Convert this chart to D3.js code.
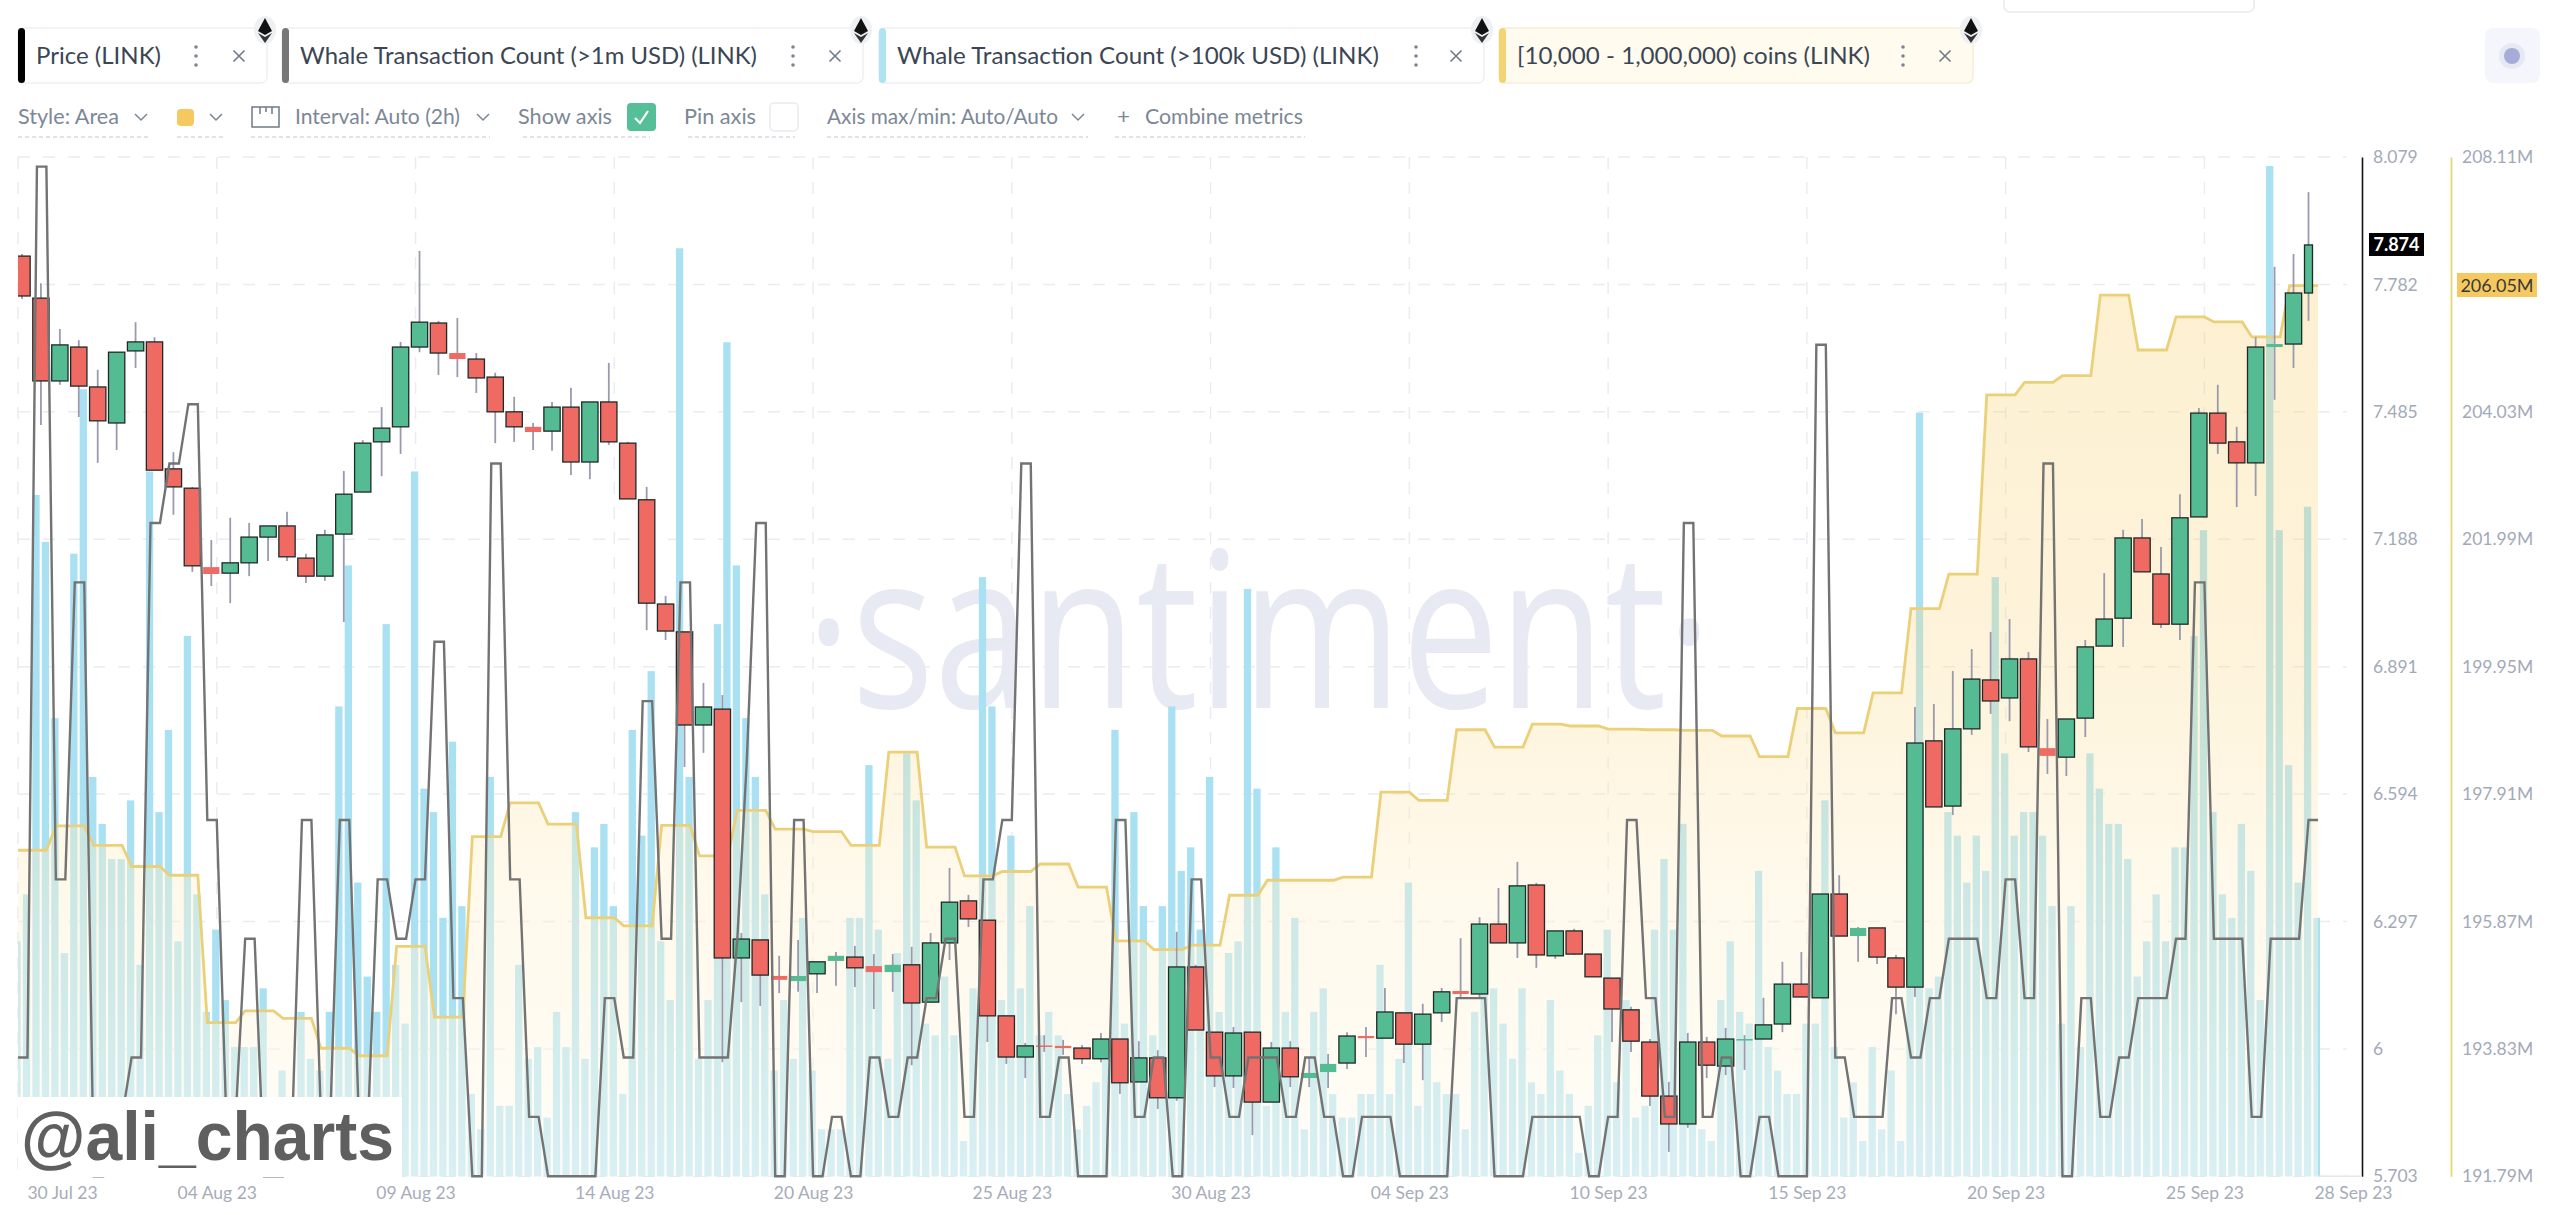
<!DOCTYPE html>
<html>
<head>
<meta charset="utf-8">
<script src="https://cdnjs.cloudflare.com/ajax/libs/d3/7.8.5/d3.min.js"></script>
<style>
html,body{margin:0;padding:0;background:#fff;overflow:hidden}
svg{display:block}
text{font-family:Lato,"Open Sans",sans-serif}
</style>
</head>
<body>
<svg id="chart" width="2560" height="1215"></svg>
<script>
// ---------- DATA ----------
const candleOpen=[7.848,7.750,7.557,7.636,7.543,7.459,7.627,7.648,7.352,7.307,7.123,7.109,7.133,7.193,7.219,7.144,7.102,7.200,7.298,7.415,7.450,7.636,7.692,7.622,7.608,7.566,7.485,7.450,7.440,7.496,7.368,7.508,7.412,7.280,7.037,6.972,6.755,6.792,6.212,6.254,6.170,6.158,6.175,6.205,6.214,6.193,6.179,6.196,6.109,6.247,6.345,6.300,6.077,5.981,6.008,6.007,6.002,5.977,6.023,5.923,5.979,5.886,6.191,6.039,5.937,6.039,5.876,6.002,5.932,5.946,5.967,6.030,6.025,6.084,6.011,6.084,6.135,6.128,6.291,6.247,6.382,6.217,6.275,6.221,6.165,6.091,6.016,5.890,5.825,6.016,5.960,6.021,6.023,6.058,6.151,6.119,6.361,6.263,6.282,6.212,6.144,6.718,6.566,6.746,6.860,6.818,6.909,6.701,6.680,6.771,6.939,7.004,7.191,7.107,6.990,7.240,7.482,7.415,7.366,7.636,7.643,7.762];
const candleHigh=[7.853,7.785,7.678,7.652,7.583,7.624,7.694,7.659,7.391,7.310,7.186,7.238,7.226,7.219,7.252,7.154,7.210,7.347,7.419,7.496,7.648,7.860,7.697,7.704,7.622,7.576,7.520,7.459,7.508,7.541,7.508,7.599,7.415,7.310,7.056,6.972,6.853,6.825,6.270,6.254,6.217,6.254,6.203,6.226,6.240,6.221,6.221,6.238,6.270,6.422,6.359,6.300,6.077,6.014,6.032,6.021,6.009,6.037,6.023,6.018,5.997,6.273,6.196,6.039,6.051,6.039,6.016,6.018,5.981,5.988,6.039,6.051,6.142,6.084,6.105,6.142,6.258,6.307,6.375,6.436,6.387,6.275,6.280,6.221,6.165,6.098,6.023,5.923,6.037,6.028,6.049,6.032,6.119,6.203,6.226,6.361,6.405,6.284,6.282,6.219,6.797,6.804,6.881,6.932,6.972,7.002,6.925,6.769,6.769,6.953,7.109,7.210,7.235,7.170,7.293,7.494,7.548,7.450,7.659,7.823,7.853,7.997];
const candleLow=[7.748,7.454,7.548,7.473,7.366,7.396,7.587,7.349,7.245,7.112,7.079,7.039,7.102,7.137,7.137,7.086,7.091,6.995,7.298,7.335,7.387,7.624,7.571,7.566,7.529,7.412,7.415,7.396,7.394,7.338,7.328,7.408,7.282,6.976,6.953,6.657,6.690,5.969,6.109,6.100,6.130,6.133,6.130,6.147,6.144,6.093,6.133,5.962,6.109,6.207,6.284,6.016,5.965,5.932,5.993,5.986,5.965,5.969,5.895,5.923,5.860,5.879,6.044,5.911,5.909,5.799,5.876,5.911,5.911,5.909,5.953,5.981,6.025,5.967,5.927,6.063,6.121,6.121,6.247,6.212,6.189,6.210,6.219,6.168,6.016,5.993,5.867,5.760,5.816,5.932,5.939,5.951,6.023,6.039,6.121,6.119,6.263,6.203,6.198,6.081,6.121,6.564,6.545,6.732,6.781,6.764,6.692,6.641,6.636,6.727,6.939,6.937,7.112,6.981,6.953,7.240,7.387,7.263,7.289,7.513,7.587,7.697];
const candleClose=[7.755,7.557,7.641,7.545,7.464,7.624,7.648,7.349,7.310,7.126,7.107,7.133,7.193,7.219,7.147,7.102,7.198,7.293,7.412,7.447,7.636,7.694,7.622,7.608,7.564,7.485,7.450,7.438,7.496,7.368,7.508,7.415,7.282,7.039,6.974,6.755,6.797,6.212,6.256,6.172,6.161,6.170,6.203,6.217,6.189,6.179,6.196,6.107,6.247,6.342,6.303,6.077,5.981,6.007,6.007,6.002,5.977,6.023,5.921,5.979,5.886,6.191,6.044,5.937,6.037,5.876,6.002,5.935,5.944,5.965,6.030,6.025,6.086,6.011,6.081,6.133,6.128,6.291,6.247,6.380,6.219,6.275,6.221,6.168,6.093,6.018,5.890,5.825,6.016,5.962,6.023,6.023,6.056,6.151,6.121,6.361,6.263,6.282,6.214,6.144,6.713,6.564,6.746,6.862,6.811,6.909,6.704,6.683,6.769,6.937,7.002,7.191,7.112,6.990,7.238,7.482,7.412,7.366,7.636,7.643,7.762,7.874];
const whaleOver1m=[2,2,17,17,5,5,10,10,0,0,1,1,2,2,11,11,12,12,13,13,6,6,1,1,4,4,0,0,0,1,6,6,1,1,6,6,1,1,5,5,4,4,5,5,9,9,3,3,0,0,12,12,5,5,1,1,0,0,0,0,0,0,3,3,2,2,8,8,4,4,10,10,2,2,2,2,4,7,11,11,0,0,6,6,0,0,1,1,0,0,2,2,1,1,2,2,3,3,4,4,1,1,5,5,6,6,12,12,1,1,2,2,0,0,0,0,6,6,1,1,2,2,0,0,5,5,2,2,1,1,2,2,2,2,1,1,2,2,1,1,0,0,1,1,1,1,0,0,0,0,0,0,3,3,3,3,0,0,0,0,1,1,1,1,1,1,0,0,1,1,6,6,3,3,1,1,11,11,1,1,2,2,0,0,1,1,0,0,0,0,14,14,2,2,1,1,1,1,3,3,2,2,3,3,4,4,4,4,3,3,5,5,3,3,12,12,0,0,3,3,1,1,2,2,3,3,3,3,4,4,10,10,4,4,4,4,1,1,4,4,4,4,6,6];
const whaleOver100k=[20,24,58,54,39,19,53,67,34,30,27,27,32,18,60,31,38,20,46,24,14,21,15,11,11,11,16,5,9,6,14,10,9,14,40,52,25,17,14,47,18,13,60,33,31,22,37,23,7,4,34,6,6,18,10,11,5,14,11,31,10,28,30,23,7,38,29,43,20,15,79,34,10,15,47,71,52,39,34,24,9,15,10,22,9,4,4,4,22,22,35,21,10,19,36,32,13,12,17,12,3,16,51,40,15,29,16,23,12,14,12,7,4,6,8,10,38,13,31,23,12,23,40,26,28,21,34,14,19,20,50,33,6,28,14,22,4,14,16,7,5,5,7,7,18,7,10,25,6,12,8,7,7,4,14,16,16,13,10,16,8,7,15,9,7,2,6,12,21,8,15,5,6,21,27,21,30,11,4,3,15,20,14,13,26,11,9,7,7,13,13,32,11,5,8,3,11,4,9,3,16,65,16,17,31,29,25,29,26,51,36,29,31,31,29,23,13,23,11,36,33,30,30,27,17,20,24,20,28,28,46,55,31,24,22,30,26,15,86,55,35,25,57,22];
// holders' balance: one reading every four samples
const coinBalance=[197.01,197.40,197.09,196.75,196.61,194.25,194.44,194.32,193.84,193.72,195.47,194.34,197.23,197.77,197.43,195.93,195.80,197.41,196.92,197.65,197.35,197.31,197.09,198.58,197.06,196.60,196.67,196.79,196.42,195.56,195.42,195.49,196.29,196.53,196.53,196.58,197.94,197.81,198.94,198.66,199.03,199.00,198.95,198.94,198.93,198.84,198.51,199.28,198.89,199.53,200.88,201.43,204.30,204.50,204.61,205.90,205.02,205.55,205.47,205.23,206.05];
const priceTicks=[8.079,7.782,7.485,7.188,6.891,6.594,6.297,6,5.703];
const coinTicks=[208.11,204.03,201.99,199.95,197.91,195.87,193.83,191.79];
const dateSlots=[0,21,42,63,84,105,126,147,168,189,210,231,243];
const dateLabels=["30 Jul 23","04 Aug 23","09 Aug 23","14 Aug 23","20 Aug 23","25 Aug 23","30 Aug 23","04 Sep 23","10 Sep 23","15 Sep 23","20 Sep 23","25 Sep 23","28 Sep 23"];
const chipNames=["Price (LINK)","Whale Transaction Count (>1m USD) (LINK)","Whale Transaction Count (>100k USD) (LINK)","[10,000 - 1,000,000) coins (LINK)"];
const chipColors=["#000000","#777777","#ADE3F3","#F2D476"];
const chipBoxes=[[18,267,125],[282,863,457],[879,1484,482],[1499,1973,353]];

// ---------- SCALES ----------
const svg=d3.select("#chart");
const top_=157,bot=1176.3;
const xLine=d3.scaleLinear().domain([0,243]).range([18,2318]);
const xCandle=d3.scaleLinear().domain([0,120]).range([22,2293.5]);
const lastCandle=candleOpen.length-1;
const candleX=i=>i===lastCandle?xCandle(120)+15:xCandle(i);   // the unfinished last candle is narrower
const candleW=i=>i===lastCandle?8:16.3;
const yPrice=d3.scaleLinear().domain([5.703,8.079]).range([bot,top_]);
const yCoin=d3.scaleLinear().domain([191.79,208.11]).range([bot,top_]);
const yWhale1=d3.scaleLinear().domain([0,17]).range([bot,166.6]);
const yWhale2=d3.scaleLinear().domain([0,86]).range([bot,166]);
const coinSeries=d3.range(244).map(i=>coinBalance[Math.floor(i/4)]);

const defs=svg.append("defs");
defs.append("clipPath").attr("id","plot").append("rect").attr("x",18).attr("y",0).attr("width",2302).attr("height",1215);
const grad=defs.append("linearGradient").attr("id","areaFill").attr("gradientUnits","userSpaceOnUse")
  .attr("x1",0).attr("x2",0).attr("y1",top_).attr("y2",bot);
grad.append("stop").attr("offset",0).attr("stop-color","rgb(249,205,100)").attr("stop-opacity",.32);
grad.append("stop").attr("offset",.45).attr("stop-color","rgb(250,215,130)").attr("stop-opacity",.3);
grad.append("stop").attr("offset",.7).attr("stop-color","rgb(254,240,205)").attr("stop-opacity",.4);
grad.append("stop").attr("offset",1).attr("stop-color","rgb(255,252,245)").attr("stop-opacity",.55);

// ---------- GRID ----------
const grid=svg.append("g").attr("stroke","#E9ECF0").attr("stroke-width",1.5).attr("stroke-dasharray","12 13");
grid.selectAll(".h").data(priceTicks).join("line").attr("x1",18).attr("x2",2347)
  .attr("y1",d=>yPrice(d)).attr("y2",d=>yPrice(d));
grid.selectAll(".v").data(dateSlots.slice(0,-1)).join("line").attr("x1",d=>xLine(d)).attr("x2",d=>xLine(d))
  .attr("y1",top_).attr("y2",bot);

// ---------- WATERMARK ----------
svg.append("text").text("·santiment·").attr("x",806).attr("y",708)
  .attr("textLength",906).attr("lengthAdjust","spacingAndGlyphs")
  .style("font-family","'Open Sans'").style("font-weight",500).style("font-size","218px").attr("fill","#E8EAF3");

const plot=svg.append("g").attr("clip-path","url(#plot)");

// ---------- BARS ----------
plot.append("g").selectAll("rect").data(whaleOver100k).join("rect")
  .attr("x",(d,i)=>xLine(i)-4.6).attr("width",7.3)
  .attr("y",d=>yWhale2(d)).attr("height",d=>bot-yWhale2(d)).attr("fill","#A9E1F3");

// ---------- AREA ----------
plot.append("path").datum(coinSeries).attr("fill","url(#areaFill)")
  .attr("d",d3.area().x((d,i)=>xLine(i)).y0(bot).y1(d=>yCoin(d)));
plot.append("path").datum(coinSeries).attr("fill","none").attr("stroke","#EBD07A").attr("stroke-width",2.8)
  .attr("d",d3.line().x((d,i)=>xLine(i)).y(d=>yCoin(d)));

// ---------- CANDLES ----------
const cg=plot.append("g");
cg.selectAll("line").data(candleOpen).join("line")
  .attr("x1",(d,i)=>candleX(i)).attr("x2",(d,i)=>candleX(i))
  .attr("y1",(d,i)=>yPrice(candleHigh[i])).attr("y2",(d,i)=>yPrice(candleLow[i]))
  .attr("stroke","#9A9AAE").attr("stroke-width",1.8);
cg.selectAll("rect").data(candleOpen).join("rect")
  .attr("x",(d,i)=>candleX(i)-candleW(i)/2).attr("width",(d,i)=>candleW(i))
  .attr("y",(d,i)=>yPrice(Math.max(d,candleClose[i])))
  .attr("height",(d,i)=>Math.max(1.5,Math.abs(yPrice(d)-yPrice(candleClose[i]))))
  .attr("fill",(d,i)=>candleClose[i]>=d?"#55BB92":"#EE6A62")
  .attr("stroke",(d,i)=>Math.abs(yPrice(d)-yPrice(candleClose[i]))>=9?"#1f2a28":"none")
  .attr("stroke-width",1.3);

// ---------- GRAY LINE ----------
plot.append("path").datum(whaleOver1m).attr("fill","none").attr("stroke","#737373").attr("stroke-width",2.4)
  .attr("stroke-linejoin","miter").attr("d",d3.line().x((d,i)=>xLine(i)).y(d=>yWhale1(d)));

// ---------- AXES ----------
const fmtPrice=d=>String(+(+d).toFixed(3));
const axP=svg.append("g").attr("transform","translate(2362,0)")
  .call(d3.axisRight(yPrice).tickValues(priceTicks).tickFormat(fmtPrice).tickSize(0).tickPadding(11));
axP.select(".domain").attr("stroke","#111").attr("stroke-width",1.6);
const axC=svg.append("g").attr("transform","translate(2451,0)")
  .call(d3.axisRight(yCoin).tickValues(coinTicks).tickFormat(d=>d.toFixed(2)+"M").tickSize(0).tickPadding(11));
axC.select(".domain").attr("stroke","#E8D872").attr("stroke-width",1.8);
[axP,axC].forEach(a=>a.selectAll("text").attr("fill","#A3A9B8").style("font-size","17.5px").style("font-family","Lato"));
svg.append("line").attr("x1",2318).attr("x2",2362).attr("y1",bot).attr("y2",bot).attr("stroke","#E4E7EC").attr("stroke-width",1.5);

const axX=svg.append("g").attr("transform","translate(0,1176)")
  .call(d3.axisBottom(xLine).tickValues(dateSlots).tickFormat((d,i)=>dateLabels[i]).tickSize(0).tickPadding(11));
axX.select(".domain").remove();
axX.selectAll("text").attr("fill","#A6ACB8").style("font-size","17.5px").style("font-family","Lato")
  .attr("dx",(d,i)=>i===0?44:(i===dateSlots.length-1?35:0));

// price tags
svg.append("rect").attr("x",2369).attr("y",233).attr("width",55).attr("height",23).attr("fill","#000");
svg.append("text").text(candleClose[candleClose.length-1].toFixed(3)).attr("x",2396.5)
  .attr("y",251).attr("text-anchor","middle").attr("fill","#fff").style("font-size","18px").style("font-weight",700);
svg.append("rect").attr("x",2457).attr("y",273).attr("width",80).attr("height",24).attr("fill","#F5C95F");
svg.append("text").text(coinBalance[coinBalance.length-1].toFixed(2)+"M").attr("x",2497).attr("y",291.5)
  .attr("text-anchor","middle").attr("fill","#3a3a3a").style("font-size","18px");

// ---------- SIGNATURE ----------
svg.append("rect").attr("x",18).attr("y",1097).attr("width",384).attr("height",80).attr("fill","#fff");
svg.append("text").text("@ali_charts").attr("x",21).attr("y",1160).attr("textLength",373).attr("lengthAdjust","spacingAndGlyphs")
  .style("font-family","'Liberation Sans'").style("font-weight",700).style("font-size","68px").attr("fill","#5F5F5F");

// ---------- HEADER ----------
const hdr=svg.append("g");
chipNames.forEach((name,i)=>{
  const [x0,x1,tw]=chipBoxes[i];
  const pale=i===3;
  hdr.append("rect").attr("x",x0).attr("y",28).attr("width",x1-x0).attr("height",55).attr("rx",6)
    .attr("fill",pale?"#FFFBEE":"#fff").attr("stroke",pale?"#F6EFD6":"#EEF0F3").attr("stroke-width",1.5);
  hdr.append("rect").attr("x",x0).attr("y",28).attr("width",7).attr("height",55).attr("rx",3.5).attr("fill",chipColors[i]);
  hdr.append("text").text(name).attr("x",x0+18).attr("y",64).attr("textLength",tw).attr("lengthAdjust","spacingAndGlyphs")
    .attr("fill","#3B4654").style("font-size","24px");
  const dotX=x1-(i===0?71:(i===1?70:(i===2?68:70))), crossX=x1-28;
  [-9,0,9].forEach(o=>hdr.append("circle").attr("cx",dotX).attr("cy",56+o).attr("r",1.8).attr("fill","#7B8694"));
  hdr.append("path").attr("d",`M${crossX-5.5} ${50.5}L${crossX+5.5} ${61.5}M${crossX+5.5} ${50.5}L${crossX-5.5} ${61.5}`)
    .attr("stroke","#6F7A88").attr("stroke-width",1.6).attr("fill","none");
  const ex=x1-2, ey=30;
  hdr.append("ellipse").attr("cx",ex).attr("cy",ey).attr("rx",11).attr("ry",14).attr("fill","#EEF0F4");
  hdr.append("path").attr("d",`M${ex} ${ey-12}L${ex+7} ${ey+1}L${ex} ${ey+5}L${ex-7} ${ey+1}Z`).attr("fill","#111");
  hdr.append("path").attr("d",`M${ex} ${ey+13}L${ex+7} ${ey+3}L${ex} ${ey+7}L${ex-7} ${ey+3}Z`).attr("fill","#333");
});

// controls row
const ctrl=(t,x,w)=>hdr.append("text").text(t).attr("x",x).attr("y",124).attr("textLength",w).attr("lengthAdjust","spacingAndGlyphs")
  .attr("fill","#7C8796").style("font-size","21px");
ctrl("Style: Area",18,101);ctrl("Interval: Auto (2h)",295,165);ctrl("Show axis",518,94);ctrl("Pin axis",684,72);
ctrl("Axis max/min: Auto/Auto",827,231);ctrl("+",1117,13);ctrl("Combine metrics",1145,158);
const chev=x=>hdr.append("path").attr("d",`M${x-6} 114L${x} 120L${x+6} 114`).attr("fill","none").attr("stroke","#7C8796").attr("stroke-width",1.5);
[141,216,483,1078].forEach(chev);
hdr.append("rect").attr("x",177).attr("y",109).attr("width",17).attr("height",17).attr("rx",4).attr("fill","#F5C95F");
hdr.append("path").attr("d","M252 107H279V127H252ZM260 107V114M266 107V112M272 107V114").attr("fill","none").attr("stroke","#6F7A88").attr("stroke-width",1.5);
hdr.append("rect").attr("x",627).attr("y",103).attr("width",29).attr("height",28).attr("rx",4).attr("fill","#55BF97");
hdr.append("path").attr("d","M635 118L640 123L648 111").attr("fill","none").attr("stroke","#fff").attr("stroke-width",2.2);
hdr.append("rect").attr("x",770).attr("y",103).attr("width",28).attr("height",28).attr("rx",4).attr("fill","#fff").attr("stroke","#E8EBEF").attr("stroke-width",1.5);
[[18,149],[177,224],[251,490],[523,650],[688,795],[827,1088],[1115,1305]].forEach(s=>{
  hdr.append("line").attr("x1",s[0]).attr("x2",s[1]).attr("y1",137).attr("y2",137).attr("stroke","#D5D9E0").attr("stroke-width",1.5).attr("stroke-dasharray","4 3");
});

// right-top controls
hdr.append("rect").attr("x",2485).attr("y",28).attr("width",55).attr("height",55).attr("rx",8).attr("fill","#F4F6FB");
hdr.append("circle").attr("cx",2512).attr("cy",56).attr("r",13).attr("fill","#E6E9F4");
hdr.append("circle").attr("cx",2512).attr("cy",56).attr("r",8).attr("fill","#A6ABD8");
hdr.append("rect").attr("x",2004).attr("y",-10).attr("width",250).attr("height",22).attr("rx",6).attr("fill","#fff").attr("stroke","#E8EAEE").attr("stroke-width",1.5);
</script>
</body>
</html>
